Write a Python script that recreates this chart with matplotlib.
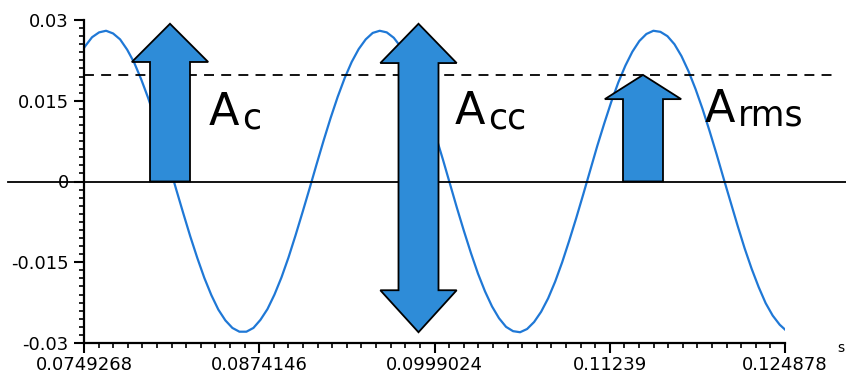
import matplotlib
matplotlib.use("Agg")
import matplotlib.pyplot as plt
from matplotlib.patches import Polygon
from matplotlib.ticker import AutoMinorLocator
import matplotlib.transforms as mtransforms

# ---- data ----
time_s = [0.0749268, 0.0750, 0.0755, 0.0760, 0.0765, 0.0770, 0.0775, 0.0780, 0.0785, 0.0790,
          0.0795, 0.0800, 0.0805, 0.0810, 0.0815, 0.0820, 0.0825, 0.0830, 0.0835, 0.0840,
          0.0845, 0.0850, 0.0855, 0.0860, 0.0865, 0.0870, 0.0875, 0.0880, 0.0885, 0.0890,
          0.0895, 0.0900, 0.0905, 0.0910, 0.0915, 0.0920, 0.0925, 0.0930, 0.0935, 0.0940,
          0.0945, 0.0950, 0.0955, 0.0960, 0.0965, 0.0970, 0.0975, 0.0980, 0.0985, 0.0990,
          0.0995, 0.1000, 0.1005, 0.1010, 0.1015, 0.1020, 0.1025, 0.1030, 0.1035, 0.1040,
          0.1045, 0.1050, 0.1055, 0.1060, 0.1065, 0.1070, 0.1075, 0.1080, 0.1085, 0.1090,
          0.1095, 0.1100, 0.1105, 0.1110, 0.1115, 0.1120, 0.1125, 0.1130, 0.1135, 0.1140,
          0.1145, 0.1150, 0.1155, 0.1160, 0.1165, 0.1170, 0.1175, 0.1180, 0.1185, 0.1190,
          0.1195, 0.1200, 0.1205, 0.1210, 0.1215, 0.1220, 0.1225, 0.1230, 0.1235, 0.1240,
          0.1245, 0.124878]
signal = [0.0248, 0.0251, 0.0268, 0.0277, 0.0280, 0.0275, 0.0264, 0.0245, 0.0221, 0.0190,
          0.0155, 0.0116, 0.0074, 0.0030, -0.0015, -0.0059, -0.0102, -0.0142, -0.0179, -0.0211,
          -0.0238, -0.0258, -0.0272, -0.0279, -0.0279, -0.0272, -0.0257, -0.0237, -0.0210, -0.0178,
          -0.0141, -0.0100, -0.0057, -0.0013, 0.0032, 0.0076, 0.0118, 0.0157, 0.0192, 0.0222,
          0.0246, 0.0264, 0.0276, 0.0280, 0.0277, 0.0267, 0.0250, 0.0227, 0.0198, 0.0164,
          0.0126, 0.0084, 0.0041, -0.0004, -0.0049, -0.0092, -0.0133, -0.0171, -0.0204, -0.0232,
          -0.0254, -0.0270, -0.0278, -0.0280, -0.0274, -0.0261, -0.0242, -0.0217, -0.0186, -0.0150,
          -0.0110, -0.0068, -0.0024, 0.0021, 0.0066, 0.0108, 0.0148, 0.0184, 0.0215, 0.0241,
          0.0261, 0.0274, 0.0280, 0.0278, 0.0270, 0.0255, 0.0233, 0.0205, 0.0172, 0.0135,
          0.0094, 0.0051, 0.0006, -0.0038, -0.0082, -0.0124, -0.0162, -0.0196, -0.0226, -0.0249,
          -0.0266, -0.0275]

x_ticks = [0.0749268, 0.0874146, 0.0999024, 0.11239, 0.124878]
x_tick_labels = ["0.0749268", "0.0874146", "0.0999024", "0.11239", "0.124878"]
y_ticks = [0.03, 0.015, 0.0, -0.015, -0.03]
y_tick_labels = ["0.03", "0.015", "0", "-0.015", "-0.03"]

peak_value = 0.0293      # arrow tip for A_c / A_cc (as drawn)
trough_value = -0.0280   # lower tip of A_cc
rms_value = 0.0198       # dashed line / A_rms arrow tip

arrow_centers = [0.081055, 0.098762, 0.114759]   # A_c, A_cc, A_rms
labels_main = ["A", "A", "A"]
labels_sub = ["c", "cc", "rms"]

# ---- figure ----
W, H = 846, 376
fig = plt.figure(figsize=(W / 100, H / 100), dpi=100)
ax = fig.add_axes([84 / W, 1 - 343 / H, (785 - 84) / W, (343 - 20) / H])

curve_color = "#1f78d6"
arrow_color = "#2e8cd8"

ax.plot(time_s, signal, color=curve_color, lw=1.6, zorder=2)
ax.set_xlim(x_ticks[0], x_ticks[-1])
ax.set_ylim(-0.03, 0.03)

for s in ["top", "right"]:
    ax.spines[s].set_visible(False)
for s in ["left", "bottom"]:
    ax.spines[s].set_linewidth(1.6)

ax.set_xticks(x_ticks)
ax.set_xticklabels(x_tick_labels)
ax.set_yticks(y_ticks)
ax.set_yticklabels(y_tick_labels)
ax.xaxis.set_minor_locator(AutoMinorLocator(12))
ax.yaxis.set_minor_locator(AutoMinorLocator(10))
ax.tick_params(which="major", length=7, width=1.5, direction="out", labelsize=13)
ax.tick_params(which="minor", length=3.5, width=1.2, direction="out")
ax.tick_params(axis="x", which="major", pad=2)
ax.tick_params(axis="y", which="major", pad=4)

# zero line extends past the axes
blend = mtransforms.blended_transform_factory(fig.transFigure, ax.transData)
ax.plot([8 / W, 1.0], [0, 0], transform=blend, color="black", lw=1.3,
        clip_on=False, zorder=3)
# dashed rms line
ax.plot([84 / W, 838 / W], [rms_value, rms_value], transform=blend, color="black",
        lw=1.3, dashes=(5.5, 4), clip_on=False, zorder=3)

# arrows
shaft_hw = 0.001425
head_hw = 0.00272


def up_arrow(xc, y0, tip, head_base):
    return [(xc - shaft_hw, y0), (xc - shaft_hw, head_base), (xc - head_hw, head_base),
            (xc, tip), (xc + head_hw, head_base), (xc + shaft_hw, head_base),
            (xc + shaft_hw, y0)]


arrow_kw = dict(closed=True, facecolor=arrow_color, edgecolor="black", lw=1.3, zorder=4)
ax.add_patch(Polygon(up_arrow(arrow_centers[0], 0.0, peak_value, 0.0222), **arrow_kw))
xc = arrow_centers[1]
ax.add_patch(Polygon([
    (xc - shaft_hw, -0.0202), (xc - shaft_hw, 0.0220), (xc - head_hw, 0.0220),
    (xc, peak_value), (xc + head_hw, 0.0220), (xc + shaft_hw, 0.0220),
    (xc + shaft_hw, -0.0202), (xc + head_hw, -0.0202), (xc, trough_value),
    (xc - head_hw, -0.0202)], **arrow_kw))
ax.add_patch(Polygon(up_arrow(arrow_centers[2], 0.0, rms_value, 0.0153), **arrow_kw))

# labels
main_pos = [(209, 125), (455, 124), (705, 122)]
sub_off = 33
sub_dy = [3, 4, 4]
for (mx, my), dy, m, sub in zip(main_pos, sub_dy, labels_main, labels_sub):
    fig.text(mx / W, 1 - my / H, m, fontsize=32, family="DejaVu Sans",
             va="baseline", ha="left", color="black", zorder=5)
    fig.text((mx + sub_off) / W, 1 - (my + dy) / H, sub, fontsize=25, family="DejaVu Sans",
             va="baseline", ha="left", color="black", zorder=5)

fig.text(837 / W, 1 - 352 / H, "s", fontsize=10, family="DejaVu Sans", va="baseline")

fig.savefig("out.png", dpi=100)
